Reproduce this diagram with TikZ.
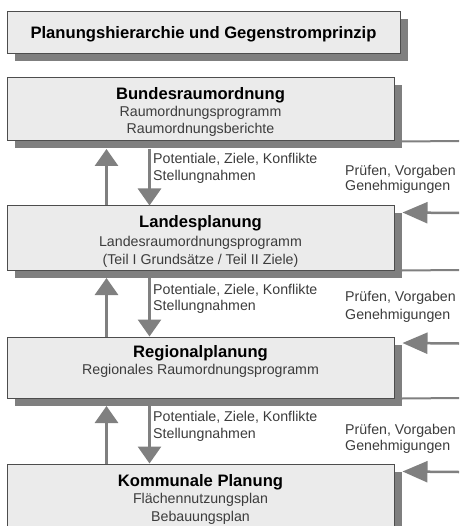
\documentclass[tikz,border=0pt]{standalone}
\usepackage{fontspec}
\setmainfont{Liberation Sans}
\usetikzlibrary{arrows.meta,shadows}
\definecolor{boxfill}{HTML}{EBEBEB}
\definecolor{boxline}{HTML}{4D4D4D}
\definecolor{shadowgray}{HTML}{7F7F7F}
\definecolor{arrowgray}{HTML}{808080}
\definecolor{subtext}{HTML}{3C3C3C}
\begin{document}
\begin{tikzpicture}[x=1pt,y=-1pt,
  box/.style={draw=boxline, line width=1pt, fill=boxfill, minimum width=387pt, inner sep=0pt,
    general shadow={fill=shadowgray, shadow xshift=7.5pt, shadow yshift=-7.5pt}},
  ttl/.style={anchor=base, font=\fontsize{16.6}{20}\selectfont\bfseries, text=black, inner sep=0pt},
  sub/.style={anchor=base, font=\fontsize{14.2}{17}\selectfont, text=subtext, inner sep=0pt},
  lbl/.style={anchor=base west, font=\fontsize{14.2}{17}\selectfont, text=subtext, inner sep=0pt},
  varrow/.style={draw=arrowgray, line width=3pt, -{Triangle[length=17pt,width=23pt]}},
  harrow/.style={draw=arrowgray, line width=2.5pt, -{Triangle[length=25pt,width=21pt]}},
  hline/.style={draw=arrowgray, line width=2pt}]
\useasboundingbox (0,0) rectangle (459,526);
\clip (0,0) rectangle (459,526);

% boxes
\node[box, minimum width=393pt, minimum height=42pt] (title) at (203.5,33) {};
\node[box, minimum height=63pt] (bund) at (200.5,109.5) {};
\node[box, minimum height=64pt] (land) at (200.5,238) {};
\node[box, minimum height=61pt] (reg) at (200.5,367.5) {};
\node[box, minimum height=81pt] (komm) at (200.5,504.5) {};

% box texts
\node[ttl] (t0) at (203.5,39) {Planungshierarchie und Gegenstromprinzip};
\node[ttl] (t1) at (200.5,100) {Bundesraumordnung};
\node[sub] (t1a) at (200.5,117) {Raumordnungsprogramm};
\node[sub] (t1b) at (200.5,134) {Raumordnungsberichte};
\node[ttl] (t2) at (200.5,228) {Landesplanung};
\node[sub] (t2a) at (200.5,246) {Landesraumordnungsprogramm};
\node[sub] (t2b) at (200.5,264) {(Teil I Grundsätze / Teil II Ziele)};
\node[ttl] (t3) at (200.5,357) {Regionalplanung};
\node[sub] (t3a) at (200.5,374) {Regionales Raumordnungsprogramm};
\node[ttl] (t4) at (200.5,486.5) {Kommunale Planung};
\node[sub] (t4a) at (200.5,503.5) {Flächennutzungsplan};
\node[sub] (t4b) at (200.5,521) {Bebauungsplan};

% vertical arrows
\foreach \up/\lo in {bund/land, land/reg, reg/komm}{
  \draw[varrow] ([xshift=100pt]\lo.north west) -- ([xshift=100pt,yshift=-7.5pt]\up.south west);
  \draw[varrow] ([xshift=143pt,yshift=-7.5pt]\up.south west) -- ([xshift=143pt]\lo.north west);
}

% labels
\node[lbl] (p1) at (153,164) {Potentiale, Ziele, Konflikte};
\node[lbl] (s1) at (153,180.5) {Stellungnahmen};
\node[lbl] (p2) at (153,294) {Potentiale, Ziele, Konflikte};
\node[lbl] (s2) at (153,310) {Stellungnahmen};
\node[lbl] (p3) at (153,421.5) {Potentiale, Ziele, Konflikte};
\node[lbl] (s3) at (153,438) {Stellungnahmen};
\node[lbl] (v1) at (345,175.5) {Prüfen, Vorgaben};
\node[lbl] (g1) at (345,191) {Genehmigungen};
\node[lbl] (v2) at (345,301.5) {Prüfen, Vorgaben};
\node[lbl] (g2) at (345,319) {Genehmigungen};
\node[lbl] (v3) at (345,434) {Prüfen, Vorgaben};
\node[lbl] (g3) at (345,450) {Genehmigungen};

% right side feedback lines
\coordinate (e1) at (459,141);
\coordinate (e2) at (459,270);
\coordinate (e3) at (459,398);
\coordinate (r1) at (459,213);
\coordinate (r2) at (459,343.5);
\coordinate (r3) at (459,472);
\draw[hline] ([xshift=7.5pt]bund.south east) -- (e1);
\draw[hline] ([xshift=7.5pt]land.south east) -- (e2);
\draw[hline] ([xshift=7.5pt]reg.south east) -- (e3);
\draw[harrow] (r1) -- ([xshift=8pt,yshift=-7pt]land.north east);
\draw[harrow] (r2) -- ([xshift=8pt,yshift=-6.5pt]reg.north east);
\draw[harrow] (r3) -- ([xshift=8pt,yshift=-8pt]komm.north east);
\end{tikzpicture}
\end{document}
